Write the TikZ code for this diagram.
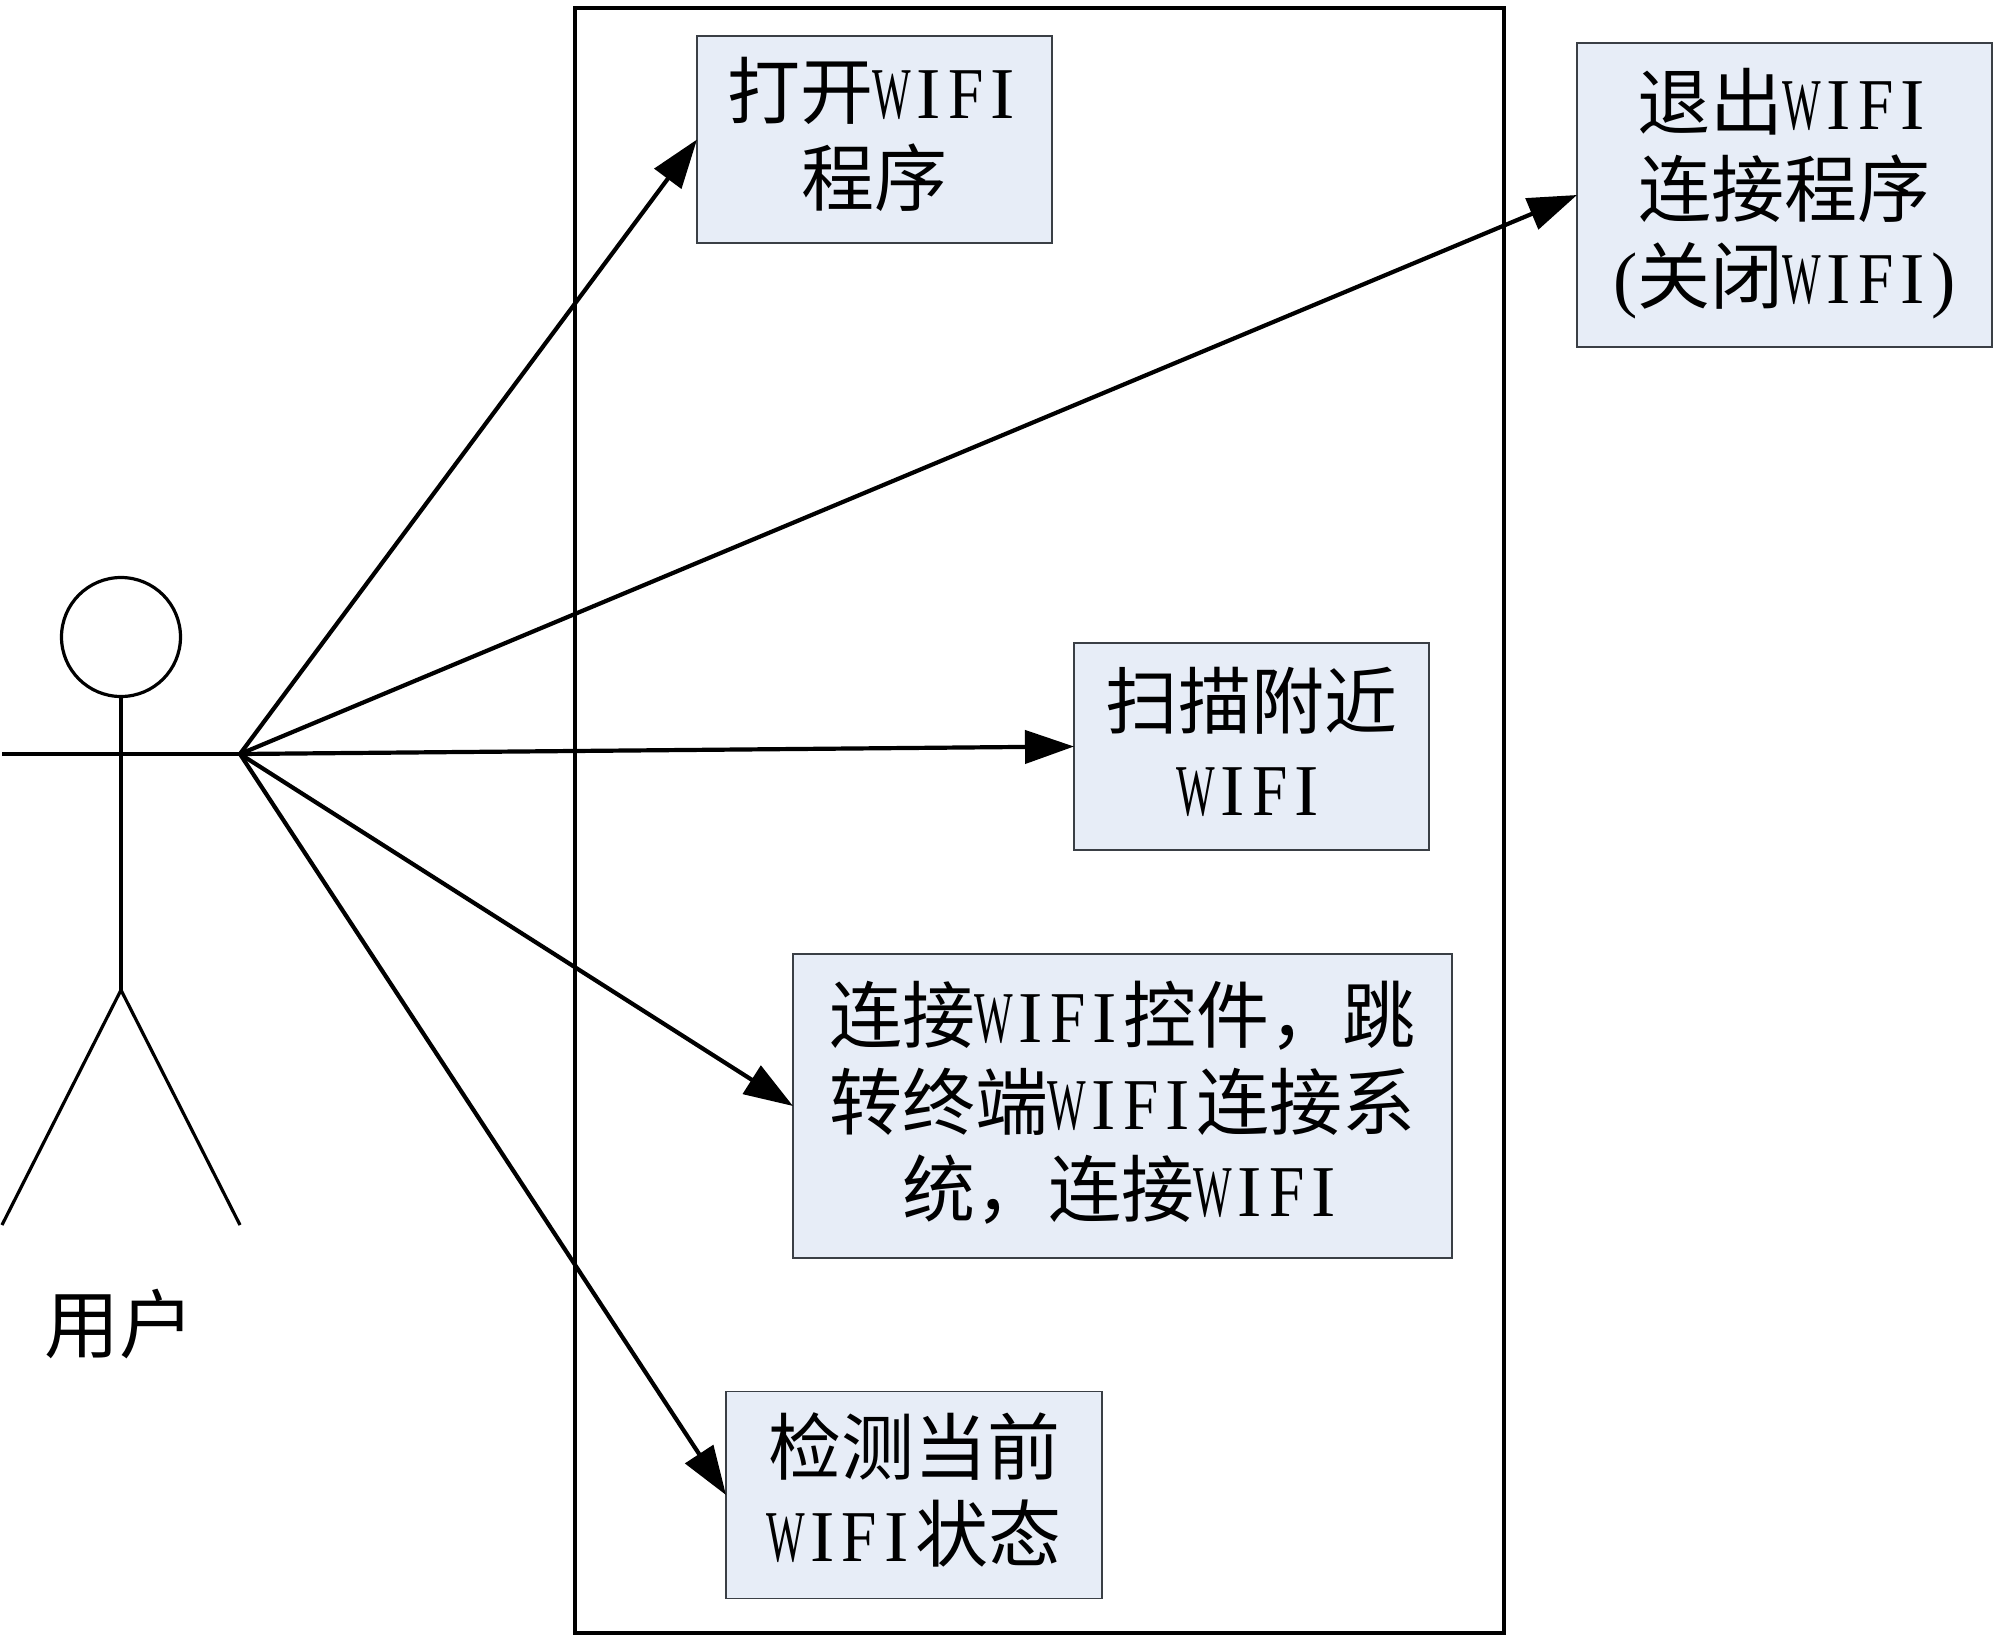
\documentclass[tikz,border=0pt]{standalone}
\usepackage{graphicx}
\usepackage{fontspec}
\usetikzlibrary{arrows.meta}
\setmainfont{Liberation Serif}
\newfontfamily\cjk{Noto Sans CJK SC}
\newcommand{\wifi}{{\normalfont\makebox[37pt]{\scalebox{.56}[1]{W}}\makebox[37pt]{I}\makebox[37pt]{\scalebox{.87}[1]{F}}\makebox[37pt]{I}}}
\definecolor{boxfill}{HTML}{E7EDF7}
\definecolor{boxline}{HTML}{3A3F45}
\tikzset{
  usecase/.style={draw=boxline, line width=1.4pt, fill=boxfill, inner sep=0pt, outer sep=0pt},
  casetext/.style={align=center, inner sep=0pt, font=\fontsize{73}{87}\selectfont\cjk},
  flow/.style={draw=black, line width=4.2pt, -{Triangle[length=49pt,width=33pt]}},
  actorline/.style={draw=black, line width=3.2pt},
}
\begin{document}
\begin{tikzpicture}[x=1pt,y=-1pt]
\useasboundingbox (0,0) rectangle (2000,1648);
\node[draw=black, line width=4.5pt, minimum width=929pt, minimum height=1625pt, inner sep=0pt, outer sep=0pt] (sys) at (1039.5,820.5) {};
% actor
\node[actorline, circle, minimum size=119pt, inner sep=0pt, outer sep=0pt] (head) at (121,637) {};
\coordinate (hip) at (121,990);
\coordinate (armL) at (2,754);
\coordinate (src) at (240,754);
\coordinate (legL) at (2,1225);
\coordinate (legR) at (240,1225);
\draw[actorline] (head.south) -- (hip);
\draw[actorline] (armL) -- (src);
\draw[actorline] (legL) -- (hip) -- (legR);
\node[casetext, font=\fontsize{75}{87}\selectfont\cjk] (user) at (119,1324) {用户};
% use cases
\node[usecase, minimum width=355pt, minimum height=207pt, label={[casetext, yshift=5pt]center:打开\wifi\\程序}] (b1) at (874.5,139.5) {};
\node[usecase, minimum width=415pt, minimum height=304pt, label={[casetext, yshift=1pt]center:退出\wifi\\连接程序\\{\normalfont(}关闭\wifi{\normalfont)}}] (b2) at (1784.5,195) {};
\node[usecase, minimum width=355pt, minimum height=207pt, label={[casetext, yshift=5pt]center:扫描附近\\\wifi}] (b3) at (1251.5,746.5) {};
\node[usecase, minimum width=659pt, minimum height=304pt, label={[casetext, yshift=3pt]center:连接\wifi 控件，跳\\转终端\wifi 连接系\\统，连接\wifi}] (b4) at (1122.5,1106) {};
\node[usecase, minimum width=376pt, minimum height=207pt, label={[casetext, yshift=5pt]center:检测当前\\\wifi 状态}] (b5) at (914,1495) {};
% connectors
\draw[flow] (src) -- (b1.west);
\draw[flow] (src) -- (b2.west);
\draw[flow] (src) -- (b3.west);
\draw[flow] (src) -- (b4.west);
\draw[flow] (src) -- (b5.west);
\end{tikzpicture}
\end{document}
